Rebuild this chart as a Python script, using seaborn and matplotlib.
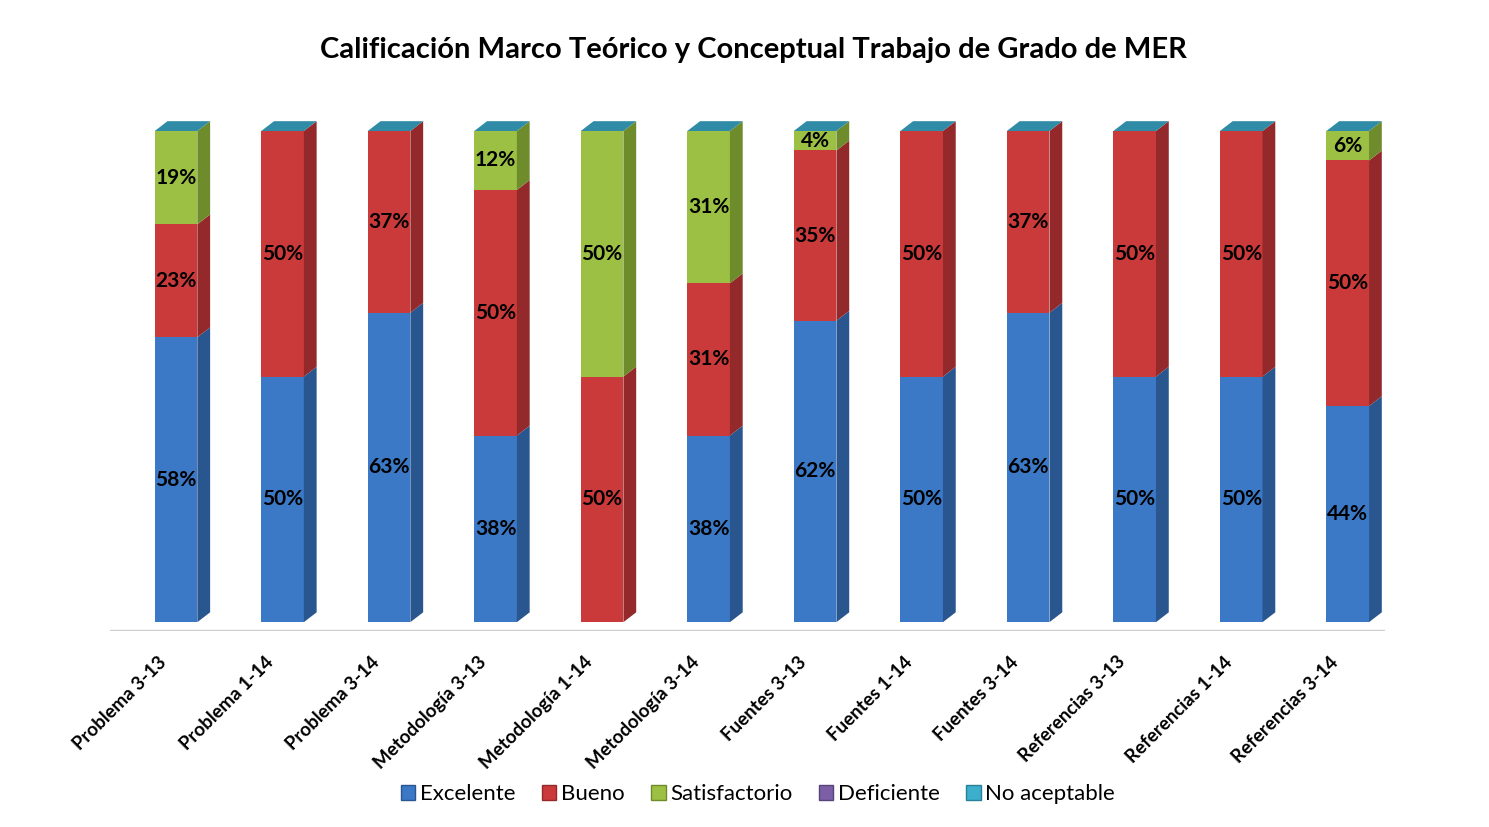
import numpy as np
import pandas as pd
import seaborn as sns
import matplotlib.pyplot as plt
from matplotlib.patches import Polygon, Patch
from matplotlib.transforms import ScaledTranslation

categories = ["Problema 3-13", "Problema 1-14", "Problema 3-14",
              "Metodología 3-13", "Metodología 1-14", "Metodología 3-14",
              "Fuentes 3-13", "Fuentes 1-14", "Fuentes 3-14",
              "Referencias 3-13", "Referencias 1-14", "Referencias 3-14"]
excelente = [58, 50, 63, 38, 0, 38, 62, 50, 63, 50, 50, 44]
bueno = [23, 50, 37, 50, 50, 31, 35, 50, 37, 50, 50, 50]
satisfactorio = [19, 0, 0, 12, 50, 31, 4, 0, 0, 0, 0, 6]
deficiente = [0] * 12
no_aceptable = [0] * 12

series_names = ["Excelente", "Bueno", "Satisfactorio", "Deficiente", "No aceptable"]
front_colors = ["#3B78C6", "#CB3A3A", "#9BC043", "#7C5FA6", "#3BAFCB"]
side_colors = ["#2A5690", "#93292A", "#6F8C2C", "#58437A", "#2A8096"]
top_color = "#2F8BA6"

sns.set_theme(style="white")
plt.rcParams["font.family"] = ["Lato", "DejaVu Sans"]
plt.rcParams["text.color"] = "black"
plt.rcParams["xtick.color"] = "black"

vals = np.array([excelente, bueno, satisfactorio, deficiente, no_aceptable], dtype=float)
# 100% stacked: normalize heights per category
heights = vals / vals.sum(axis=0) * 100
cum = np.cumsum(heights, axis=0)

fig = plt.figure(figsize=(14.89, 8.27), dpi=100)
ax = fig.add_axes([110 / 1489, 1 - 631 / 827, 1275 / 1489, 500 / 827])

df = pd.DataFrame({"cat": categories})
bar_w = 0.4
# draw cumulative totals from top layer down so lower layers overlay
for k in range(2, -1, -1):
    df["h"] = cum[k]
    sns.barplot(data=df, x="cat", y="h", color=front_colors[k], width=bar_w,
                saturation=1, ax=ax, linewidth=0, zorder=2)

dx, dy = 0.12, 2.0
for i in range(len(categories)):
    x1 = i + bar_w / 2
    x0 = i - bar_w / 2
    bottom = 0.0
    for k in range(3):
        top = cum[k][i]
        if heights[k][i] > 0:
            ax.add_patch(Polygon([(x1, bottom), (x1 + dx, bottom + dy),
                                  (x1 + dx, top + dy), (x1, top)],
                                 closed=True, facecolor=side_colors[k],
                                 edgecolor="none", zorder=2, clip_on=False))
            ax.text(i, (bottom + top) / 2, f"{int(vals[k][i])}%", ha="center",
                    va="center", fontsize=15, fontweight="bold", color="black",
                    zorder=5)
        bottom = top
    ax.add_patch(Polygon([(x0, bottom), (x0 + dx, bottom + dy),
                          (x1 + dx, bottom + dy), (x1, bottom)],
                         closed=True, facecolor=top_color, edgecolor="none",
                         zorder=2, clip_on=False))

ax.set_xlim(-0.62, 11.35)
ax.set_ylim(-1.8, 100)
ax.axhline(-1.8, color="#D0D0D0", linewidth=2.5, zorder=1)
ax.set_yticks([])
ax.set_xlabel("")
ax.set_ylabel("")
for s in ax.spines.values():
    s.set_visible(False)
ax.tick_params(axis="x", length=0, pad=16)
ax.set_xticks(range(len(categories)))
ax.set_xticklabels(categories, rotation=45, ha="right", rotation_mode="anchor",
                   fontsize=13.5, fontweight="bold", color="black")
shift = ScaledTranslation(-0.18, 0, fig.dpi_scale_trans)
for lbl in ax.get_xticklabels():
    lbl.set_transform(lbl.get_transform() + shift)

fig.suptitle("Calificación Marco Teórico y Conceptual Trabajo de Grado de MER",
             x=0.506, y=0.94, va="center", fontsize=21, fontweight="bold",
             color="black")

handles = [Patch(facecolor=front_colors[k], edgecolor=side_colors[k], label=series_names[k])
           for k in range(5)]
fig.legend(handles=handles, loc="center", bbox_to_anchor=(0.509, 0.04), ncol=5,
           frameon=False, fontsize=16, handlelength=0.65, handleheight=0.65,
           handletextpad=0.2, columnspacing=1.2, labelcolor="black")

fig.savefig("out.png", dpi=100, facecolor="white")
